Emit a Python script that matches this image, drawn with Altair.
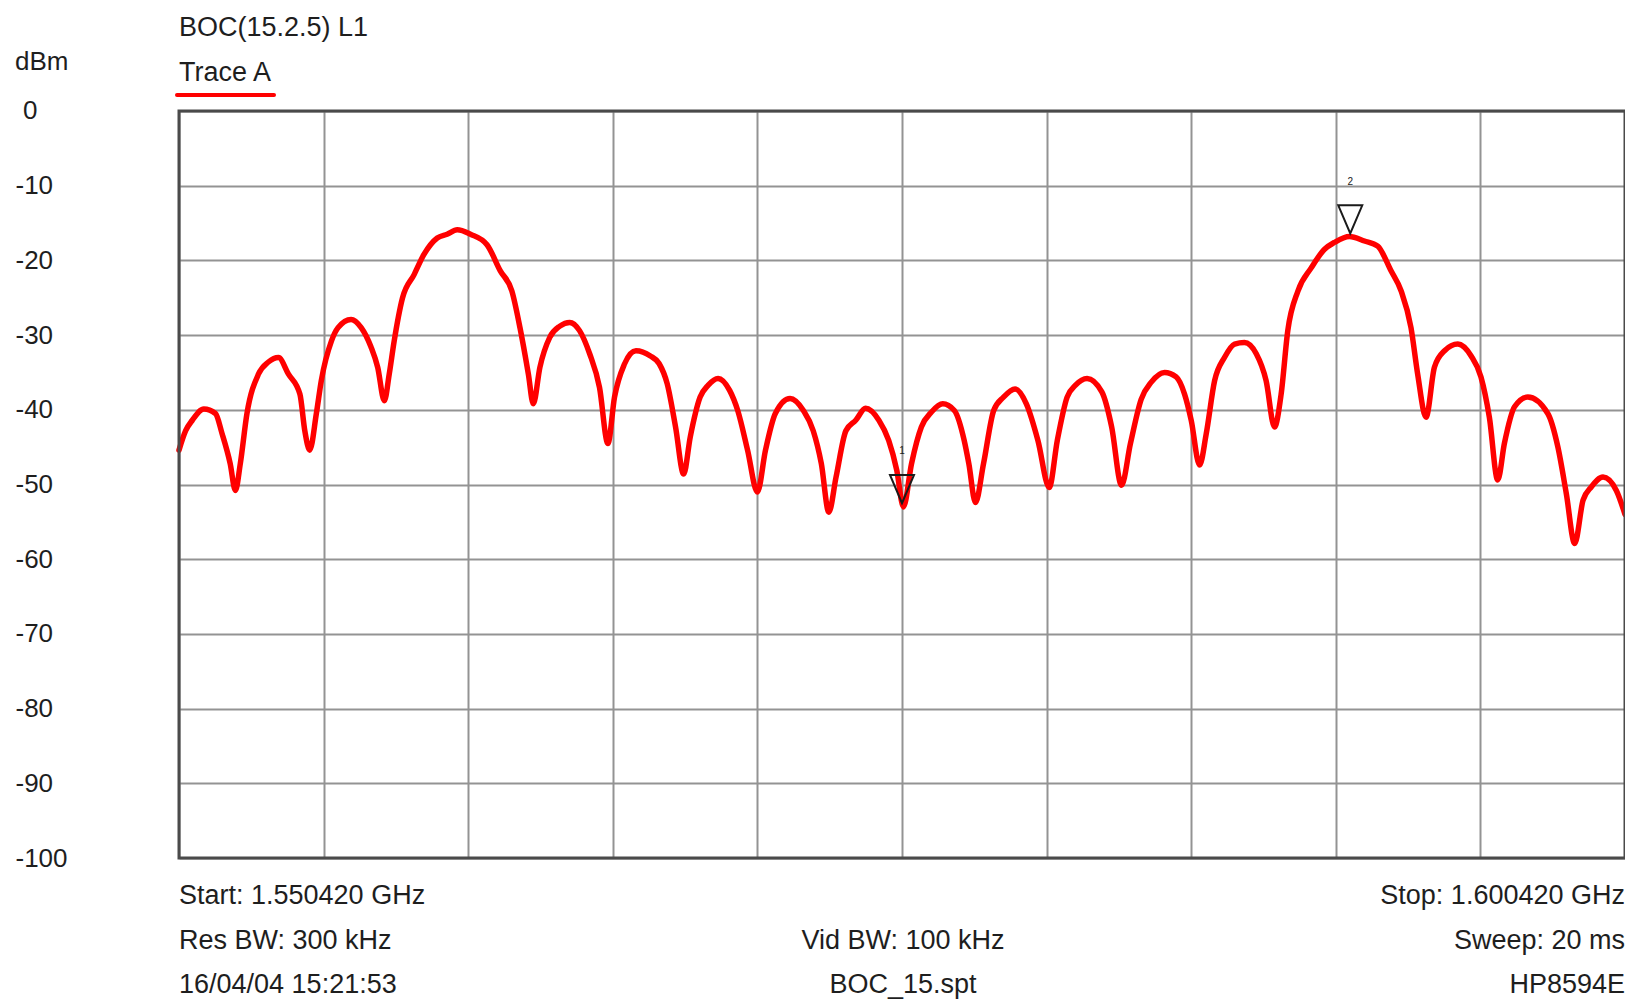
import altair as alt
import pandas as pd

# ---------------- data ----------------
START_MHZ = 1550.42
STOP_MHZ = 1600.42

# frequency offset from start (MHz) and measured level (dBm)
offset_mhz = [
    0.0, 0.23, 0.46, 0.86, 1.26, 1.49, 1.77, 1.95, 2.12, 2.35, 2.75, 3.09, 3.44,
    3.78, 4.18, 4.35, 4.52, 4.75, 4.92, 5.27, 5.5, 5.95, 6.3, 6.64, 6.87, 7.1,
    7.27, 7.44, 7.73, 8.13, 8.47, 8.93, 9.27, 9.62, 10.08, 10.65, 11.11, 11.51,
    11.79, 12.08, 12.25, 12.48, 12.82, 13.17, 13.51, 13.85, 14.2, 14.54, 14.83,
    15.06, 15.4, 15.8, 16.3, 16.6, 16.88, 17.17, 17.45, 17.68, 18.02, 18.3,
    18.64, 19.04, 19.32, 19.66, 20.0, 20.28, 20.62, 21.13, 21.59, 21.93, 22.21,
    22.47, 22.72, 23.06, 23.4, 23.74, 24.2, 24.54, 24.82, 25.05, 25.33, 25.67,
    26.02, 26.41, 26.81, 27.15, 27.31, 27.54, 27.82, 28.17, 28.51, 28.91, 29.3,
    29.7, 30.09, 30.37, 30.71, 31.0, 31.4, 31.91, 32.25, 32.59, 32.9, 33.27,
    33.62, 34.08, 34.48, 34.77, 35.0, 35.29, 35.52, 35.81, 36.15, 36.5, 36.84,
    37.25, 37.59, 37.88, 38.11, 38.34, 38.69, 39.15, 39.61, 39.95, 40.47, 40.99,
    41.45, 41.91, 42.26, 42.6, 42.83, 43.12, 43.41, 43.76, 44.22, 44.68, 45.02,
    45.31, 45.6, 45.83, 46.18, 46.64, 47.33, 47.68, 47.97, 48.26, 48.55, 48.84,
    49.24, 49.7, 50.0,
]
level_dbm = [
    -45.4, -42.8, -41.4, -39.9, -40.5, -43.2, -47.2, -50.8, -47.2, -40.5, -35.2,
    -33.6, -33.0, -35.2, -37.9, -42.8, -45.4, -40.5, -36.1, -30.8, -29.0, -27.9,
    -29.0, -31.6, -34.3, -38.8, -35.2, -30.8, -25.0, -21.9, -19.2, -17.0, -16.5,
    -15.9, -16.5, -17.9, -21.4, -24.1, -29.0, -35.2, -39.2, -34.3, -30.3, -28.8,
    -28.3, -29.4, -32.5, -37.0, -44.5, -38.3, -33.9, -32.1, -32.8, -33.8, -36.5,
    -42.3, -48.6, -43.6, -38.3, -36.7, -35.8, -37.4, -40.1, -45.4, -51.0, -45.4,
    -40.5, -38.5, -40.1, -42.8, -47.2, -53.7, -49.0, -42.8, -41.4, -39.8, -41.4,
    -44.1, -48.1, -53.0, -47.2, -42.3, -40.3, -39.2, -40.1, -44.1, -47.2, -52.4,
    -47.2, -40.1, -38.3, -37.2, -39.2, -44.1, -50.4, -44.1, -38.3, -36.7, -35.8,
    -37.6, -42.3, -50.1, -44.5, -38.6, -36.3, -35.0, -35.6, -37.9, -41.4, -47.4,
    -43.2, -36.1, -33.0, -31.2, -31.0, -32.5, -36.1, -42.3, -37.9, -29.4, -24.1,
    -21.0, -18.5, -17.6, -16.8, -17.4, -18.1, -21.4, -24.1, -29.0, -35.2, -41.0,
    -34.3, -32.1, -31.2, -32.8, -35.6, -41.0, -49.4, -44.5, -39.6, -38.3, -40.5,
    -45.0, -51.2, -57.9, -52.1, -50.3, -49.0, -50.8, -54.0,
]

marker_ids = ["1", "2"]
marker_offset_mhz = [25.0, 40.5]
marker_dbm = [-52.5, -16.4]

y_ticks = [0, -10, -20, -30, -40, -50, -60, -70, -80, -90, -100]
x_grid_offsets = [0, 5, 10, 15, 20, 25, 30, 35, 40, 45, 50]

unit_text = "dBm"
title_text = "BOC(15.2.5) L1"
trace_name = "Trace A"
footer_left = ["Start: 1.550420 GHz", "Res BW: 300 kHz", "16/04/04 15:21:53"]
footer_center = ["", "Vid BW: 100 kHz", "BOC_15.spt"]
footer_right = ["Stop: 1.600420 GHz", "Sweep: 20 ms", "HP8594E"]

# ---------------- layout / style ----------------
W, H = 1446, 747
FONT = "Liberation Sans"
FS_AXIS = 26
FS = 27
TXT = "#1e1e1e"
RED = "#ff0000"
GRID = "#939393"
ROW_Y = [785, 830, 874]
COL_X = {"left": 0, "center": 724, "right": 1446}

trace = pd.DataFrame({
    "freq": [START_MHZ + o for o in offset_mhz],
    "dbm": level_dbm,
})
markers = pd.DataFrame({
    "id": marker_ids,
    "freq": [START_MHZ + o for o in marker_offset_mhz],
    "dbm": marker_dbm,
})
zero_tick = pd.DataFrame({"v": [t for t in y_ticks if t == 0]})

xscale = alt.Scale(domain=[START_MHZ, STOP_MHZ], nice=False, zero=False)
yscale = alt.Scale(domain=[-100, 0], nice=False)

xaxis = alt.Axis(values=[START_MHZ + v for v in x_grid_offsets], labels=False,
                 ticks=False, domain=False, title=None, grid=True,
                 gridColor=GRID, gridWidth=2, gridOpacity=1)
yaxis = alt.Axis(values=y_ticks, title=None, grid=True, gridColor=GRID,
                 gridWidth=2, gridOpacity=1, ticks=False, tickSize=0,
                 domain=False, labelAlign="left", labelPadding=164,
                 labelFont=FONT, labelFontSize=FS_AXIS, labelColor=TXT,
                 labelBaseline="middle",
                 labelExpr="datum.value == 0 ? '' : '-' + abs(datum.value)")

line = alt.Chart(trace).mark_line(color=RED, strokeWidth=5.5, strokeJoin="round",
                                  strokeCap="round", interpolate="monotone").encode(
    x=alt.X("freq:Q", scale=xscale, axis=xaxis),
    y=alt.Y("dbm:Q", scale=yscale, axis=yaxis),
)

# the "0" tick label sits a little to the right of the negative ones
zero_lbl = alt.Chart(zero_tick).mark_text(
    font=FONT, fontSize=FS_AXIS, color=TXT, align="left", baseline="middle"
).encode(x=alt.value(-156), y=alt.Y("v:Q", scale=yscale), text="v:Q")

tri = alt.Chart(markers).mark_point(
    shape="M-1,-2.35L1,-2.35L0,0Z", size=576, filled=False,
    stroke="#1a1a1a", strokeWidth=2, opacity=1).encode(
    x=alt.X("freq:Q", scale=xscale),
    y=alt.Y("dbm:Q", scale=yscale),
)

tri_lbl = alt.Chart(markers).mark_text(
    font=FONT, fontSize=10, color="#1a1a1a", dy=-52, baseline="middle").encode(
    x=alt.X("freq:Q", scale=xscale),
    y=alt.Y("dbm:Q", scale=yscale),
    text="id:N",
)

frame = alt.Chart(pd.DataFrame({"k": [0]})).mark_rect(
    fillOpacity=0, stroke="#4a4a4a", strokeWidth=3).encode(
    x=alt.value(0), x2=alt.value(W), y=alt.value(0), y2=alt.value(H))


def label(txt, px, py, align="left", size=FS):
    return alt.Chart(pd.DataFrame({"t": [txt]})).mark_text(
        font=FONT, fontSize=size, color=TXT, align=align, baseline="middle"
    ).encode(x=alt.value(px), y=alt.value(py), text="t:N")


texts = [
    label(unit_text, -164, -49, size=FS_AXIS),
    label(title_text, 0, -83),
    label(trace_name, 0, -38.5),
]
for i in range(3):
    texts.append(label(footer_left[i], COL_X["left"], ROW_Y[i], "left"))
    if footer_center[i]:
        texts.append(label(footer_center[i], COL_X["center"], ROW_Y[i], "center"))
    texts.append(label(footer_right[i], COL_X["right"], ROW_Y[i], "right"))

underline = alt.Chart(pd.DataFrame({"k": [0]})).mark_rule(
    color=RED, strokeWidth=4, strokeCap="round").encode(
    x=alt.value(-2), x2=alt.value(95), y=alt.value(-16))

chart = alt.layer(line, zero_lbl, tri, tri_lbl, frame, underline, *texts).properties(
    width=W, height=H,
    autosize=alt.AutoSizeParams(type="none"),
    padding={"left": 171, "top": 103, "right": 0, "bottom": 142},
    background="white",
).configure_view(stroke=None)

chart.save("out.html", embed_options={"renderer": "svg", "actions": False})
